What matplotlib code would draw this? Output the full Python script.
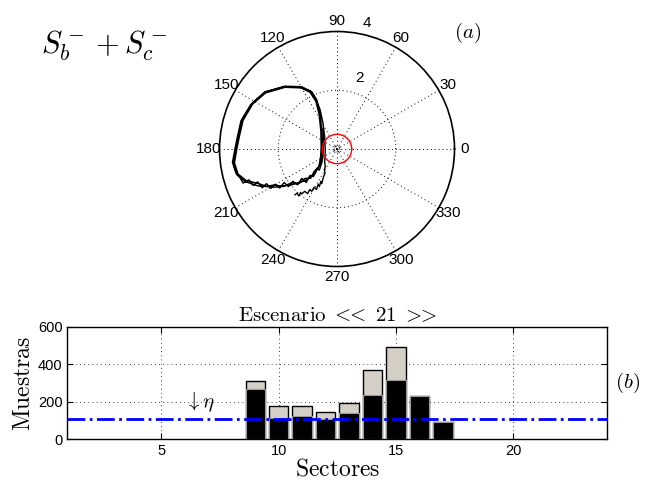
import numpy as np
import matplotlib
matplotlib.use("Agg")
import matplotlib.pyplot as plt

plt.rcParams['font.family'] = ['Liberation Sans', 'DejaVu Sans']
plt.rcParams['mathtext.fontset'] = 'cm'

# trajectory in polar-plot units (x, y); tail first, then three laps of the loop
tail_x = [-1.43, -1.36, -1.30, -1.24, -1.20, -1.10, -1.00, -0.93, -0.86, -0.78,
          -0.70, -0.64, -0.60, -0.55, -0.52, -0.46, -0.41, -0.43, -0.40, -0.42,
          -0.41, -0.40, -0.42, -0.48, -0.58, -0.72, -0.90]
tail_y = [-1.56, -1.50, -1.60, -1.48, -1.53, -1.44, -1.52, -1.38, -1.44, -1.30,
          -1.38, -1.20, -1.28, -1.10, -1.18, -0.95, -0.83, -0.70, -0.60, -0.45,
          -0.26, 0.00, 0.40, 0.90, 1.35, 1.70, 1.97]
lap1_x = [-1.20, -1.77, -2.45, -2.90, -3.24, -3.36, -3.45, -3.53, -3.41, -3.13,
          -2.68, -2.11, -1.54, -1.09, -0.75, -0.58, -0.52, -0.50, -0.52, -0.58,
          -0.69, -0.86]
lap1_y = [2.12, 2.14, 1.95, 1.55, 0.99, 0.40, 0.00, -0.49, -0.88, -1.11,
          -1.26, -1.30, -1.22, -1.08, -0.83, -0.54, -0.26, 0.02, 0.65, 1.21,
          1.67, 1.95]
lap2_x = [-1.22, -1.77, -2.43, -2.87, -3.20, -3.33, -3.41, -3.49, -3.37, -3.10,
          -2.66, -2.40, -2.11, -1.85, -1.54, -1.30, -1.09, -0.90, -0.78, -0.62,
          -0.56, -0.54, -0.55, -0.61, -0.72, -0.92]
lap2_y = [2.08, 2.10, 1.91, 1.53, 0.97, 0.40, 0.00, -0.47, -0.85, -1.07,
          -1.18, -1.27, -1.22, -1.28, -1.15, -1.18, -1.00, -1.00, -0.76, -0.60,
          -0.28, 0.05, 0.60, 1.18, 1.62, 1.93]
lap3_x = [-1.25, -1.80, -2.47, -2.93, -3.27, -3.40, -3.48, -3.56, -3.45, -3.30,
          -3.20, -3.00, -2.85, -2.70, -2.55, -2.40, -2.25, -2.10, -1.95, -1.80,
          -1.65, -1.50, -1.35, -1.20, -1.05, -0.92, -0.80, -0.68, -0.60, -0.50,
          -0.47, -0.46, -0.47]
lap3_y = [2.10, 2.12, 1.92, 1.52, 0.96, 0.38, -0.02, -0.45, -0.80, -0.98,
          -1.16, -1.05, -1.24, -1.12, -1.32, -1.18, -1.34, -1.20, -1.33, -1.14,
          -1.28, -1.10, -1.22, -1.00, -1.14, -0.90, -0.94, -0.66, -0.72, -0.40,
          -0.10, 0.30, 0.70]

# sector histogram
sectors = [9, 10, 11, 12, 13, 14, 15, 16, 17]
total = [309, 177, 177, 145, 193, 369, 493, 232, 92]
inside = [268, 112, 124, 108, 140, 236, 318, 232, 92]
eta = 108

fig = plt.figure(figsize=(6.46, 4.84), dpi=100)

# (a) polar trajectory
axp = fig.add_axes([0.3398, 0.4494, 0.3638, 0.4855], projection='polar')
xs = np.array(tail_x + lap1_x + lap2_x + lap3_x)
ys = np.array(tail_y + lap1_y + lap2_y + lap3_y)
axp.plot(np.arctan2(ys, xs), np.hypot(xs, ys), color='black', lw=1.0)
circ = np.linspace(0, 2 * np.pi, 200)
axp.plot(circ, np.full_like(circ, 0.5), color='red', lw=1.0)
axp.plot(circ, np.full_like(circ, 0.1), color='black', lw=0.6, ls='--')
axp.set_ylim(0, 4)
axp.set_rgrids([2], labels=[''])
axp.set_thetagrids(range(0, 360, 30), labels=[str(a) for a in range(0, 360, 30)],
                   fontsize=11)
axp.grid(True, color='black', ls=(0, (1, 3)), lw=0.7)
axp.spines['polar'].set_linewidth(1.2)
axp.tick_params(axis='x', pad=-3)
axp.text(np.deg2rad(72), 2.53, '2', fontsize=11, ha='center', va='center')
axp.text(np.deg2rad(76.6), 4.40, '4', fontsize=11, ha='center', va='center')

fig.text(0.161, 0.905, r'$S_b^- + S_c^-$', fontsize=22, ha='center', va='center')
fig.text(0.724, 0.932, r'$(a)$', fontsize=15, ha='center', va='center')

# (b) samples per sector
ax = fig.add_axes([0.1042, 0.0924, 0.8359, 0.2326])
ax.bar(sectors, total, width=0.82, color='#d4d0c8', edgecolor='black', lw=1.0, zorder=2)
ax.bar(sectors, inside, width=0.82, color='black', edgecolor='#999999', lw=0.8, zorder=3)
ax.axhline(eta, color='blue', ls='-.', lw=2, zorder=4)
ax.text(6.0, 170, r'$\downarrow\eta$', fontsize=15)
ax.set_xlim(1, 24)
ax.set_ylim(0, 600)
ax.set_xticks([5, 10, 15, 20])
ax.set_yticks([0, 200, 400, 600])
ax.tick_params(direction='in', top=True, right=True, labelsize=10.5, length=4)
ax.grid(True, color='black', ls=(0, (1, 4)), lw=0.6, zorder=1)
for s in ax.spines.values():
    s.set_linewidth(1.0)
ax.set_title(r'$\mathrm{Escenario}\ <\!\!\!<\ 21\ >\!\!\!>$', fontsize=15, pad=4)
ax.set_ylabel(r'$\mathrm{Muestras}$', fontsize=17, labelpad=2)
ax.set_xlabel(r'$\mathrm{Sectores}$', fontsize=17, labelpad=0)
fig.text(0.972, 0.208, r'$(b)$', fontsize=15, ha='center', va='center')

fig.savefig('out.png', dpi=100)
